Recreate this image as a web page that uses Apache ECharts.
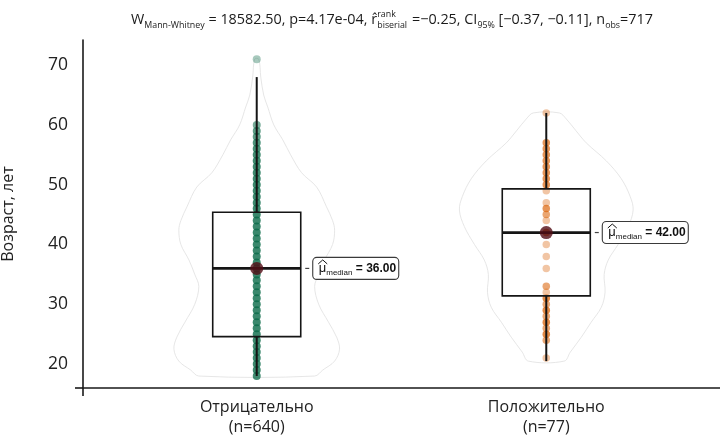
<!DOCTYPE html>
<html>
<head>
<meta charset="utf-8">
<script src="https://cdn.jsdelivr.net/npm/echarts@6.0.0/dist/echarts.min.js"></script>
<style>
  html, body { margin: 0; background: #fff; }
  #chart { width: 720px; height: 438px; }
</style>
</head>
<body>
<div id="chart"></div>
<script>
// --- data ---
const categories = ['Отрицательно', 'Положительно'];
const groupSizes = [640, 77];
const yTicks = [20, 30, 40, 50, 60, 70];

// [whisker low, Q1, median, Q3, whisker high]
const boxNeg = [18, 24.6, 36, 45.4, 68];
const boxPos = [20.5, 31.4, 42, 49.3, 62];
const medianText = ['36.00', '42.00'];

// ages seen as dots and how many seem stacked on each
const agesNeg = [18, 19, 20, 21, 22, 23, 24, 25, 26, 27, 28, 29, 30, 31, 32, 33, 34, 35, 36, 37, 38, 39,
  40, 41, 42, 43, 44, 45, 46, 47, 48, 49, 50, 51, 52, 53, 54, 55, 56, 57, 58, 59, 60, 71];
const countsNeg = [6, 10, 14, 18, 20, 22, 22, 21, 19, 17, 15, 14, 13, 12, 12, 12, 13, 14, 15, 16, 17, 18,
  19, 19, 19, 19, 18, 17, 16, 15, 14, 13, 12, 10, 9, 8, 7, 6, 5, 4, 3, 3, 2, 1];
const agesPos = [62, 57, 56, 55, 54, 53, 52, 51, 50, 49, 47, 46, 45, 44, 42, 40, 38, 36, 33, 32, 31, 30,
  29, 28, 27, 26, 25, 24, 21];
const countsPos = [1, 3, 3, 3, 3, 3, 3, 3, 3, 1, 1, 3, 2, 1, 4, 1, 1, 1, 2, 1, 4, 2, 4, 2, 4, 2, 4, 2, 1];

// violin outline: [age, half width in category units]
const violinNeg = [[71, 0.007], [68, 0.014], [65, 0.024], [63, 0.038], [60, 0.059], [57.5, 0.09],
  [55, 0.117], [52, 0.155], [49.6, 0.207], [46.3, 0.241], [44, 0.262], [42.4, 0.269], [40, 0.262],
  [37.4, 0.234], [35, 0.214], [33, 0.2], [30, 0.214], [27, 0.248], [24.5, 0.276], [22.5, 0.286],
  [20.5, 0.269], [19, 0.228], [18, 0.2]];
const violinPos = [[62, 0.045], [61, 0.069], [59, 0.103], [57, 0.138], [54, 0.207], [51, 0.259],
  [48, 0.29], [45.75, 0.3], [43, 0.283], [40, 0.248], [37.4, 0.214], [35, 0.2], [32, 0.203],
  [29.5, 0.19], [27, 0.155], [24.5, 0.121], [22, 0.083], [20.5, 0.062]];

// subtitle statistics
const wStat = '18582.50', pValue = '4.17e-04', rEff = '−0.25', ciLow = '−0.37', ciHigh = '−0.11', nObs = '717';

// --- styling ---
const colors = ['#0a6a48', '#D95F02'];
const pointAlpha = 0.45;
const boxHalf = 0.152;
const font = '"Open Sans", "DejaVu Sans", sans-serif';

function rgba(hex, a) {
  const n = parseInt(hex.slice(1), 16);
  return 'rgba(' + (n >> 16) + ',' + ((n >> 8) & 255) + ',' + (n & 255) + ',' + a.toFixed(3) + ')';
}

function pointData(x, ages, counts) {
  return ages.map((a, i) => [x, a, counts[i]]);
}

// subtitle pieces, measured so they sit side by side
function buildTitle() {
  const parts = [
    ['W', 'n'], ['Mann-Whitney', 'sub'], [' = ' + wStat + ', p=' + pValue + ', ', 'n'], ['r\u0302', 'n'],
    [['rank', 'biserial'], 'stack'], [' =' + rEff + ', CI', 'n'], ['95%', 'sub'],
    [' [' + ciLow + ', ' + ciHigh + '], n', 'n'], ['obs', 'sub'], ['=' + nObs, 'n']
  ];
  const ctx = document.createElement('canvas').getContext('2d');
  const big = 13, small = 8;
  const w = (t, s) => { ctx.font = s + 'px ' + font; return ctx.measureText(t).width; };
  let x = 0;
  const items = [];
  parts.forEach(([t, kind]) => {
    if (kind === 'stack') {
      items.push({ t: t[0], s: small, x: x, dy: -5.5 });
      items.push({ t: t[1], s: small, x: x, dy: 4.5 });
      x += Math.max(w(t[0], small), w(t[1], small)) + 1;
    } else {
      const s = kind === 'sub' ? small : big;
      items.push({ t: t, s: s, x: x, dy: kind === 'sub' ? 4.5 : 0 });
      x += w(t, s);
    }
  });
  const k = 522 / x;
  const left = 131, mid = 21.5;
  return items.map(it => ({
    type: 'text',
    left: left + it.x * k,
    top: mid + it.dy * k - it.s * k * 0.62,
    style: { text: it.t, fill: '#1a1a1a', font: (it.s * k).toFixed(2) + 'px ' + font }
  }));
}

const chart = echarts.init(document.getElementById('chart'));

function renderViolin(params, api) {
  const outline = params.seriesIndex === 0 ? violinNeg : violinPos;
  const x = api.value(0);
  const right = outline.map(([v, h]) => api.coord([x + h, v]));
  const left = outline.slice().reverse().map(([v, h]) => api.coord([x - h, v]));
  return {
    type: 'polygon',
    shape: { points: right.concat(left), smooth: 0.35 },
    style: { fill: 'rgba(255,255,255,0)', stroke: '#e0e0e0', lineWidth: 0.8 }
  };
}

function renderBox(params, api) {
  const x = api.value(0);
  const [wl, q1, md, q3, wh] = [1, 2, 3, 4, 5].map(i => api.value(i));
  const c = (dx, v) => api.coord([x + dx, v]);
  const tl = c(-boxHalf, q3), br = c(boxHalf, q1);
  const ln = (p1, p2, lw) => ({
    type: 'line',
    shape: { x1: p1[0], y1: p1[1], x2: p2[0], y2: p2[1] },
    style: { stroke: '#151515', lineWidth: lw }
  });
  return {
    type: 'group',
    children: [
      ln(c(0, wl), c(0, q1), 2),
      ln(c(0, q3), c(0, wh), 2),
      { type: 'rect', shape: { x: tl[0], y: tl[1], width: br[0] - tl[0], height: br[1] - tl[1] },
        style: { fill: 'none', stroke: '#151515', lineWidth: 1.6 } },
      ln(c(-boxHalf, md), c(boxHalf, md), 2.8)
    ]
  };
}

function renderLabel(params, api) {
  const x = api.value(0);
  const p = api.coord([x + boxHalf, api.value(1)]);
  const txt = medianText[params.dataIndex];
  const tx = p[0] + 18, ty = p[1];
  return {
    type: 'group',
    children: [
      { type: 'line', shape: { x1: p[0] + 4.5, y1: ty, x2: p[0] + 8.5, y2: ty },
        style: { stroke: '#444', lineWidth: 1.2 } },
      { type: 'rect', shape: { x: p[0] + 12, y: ty - 11, width: 86, height: 22, r: 4 },
        style: { fill: '#fff', stroke: '#3a3a3a', lineWidth: 1.1 } },
      { type: 'polyline', shape: { points: [[tx - 0.5, ty - 4.5], [tx + 4, ty - 8.5], [tx + 8.5, ty - 4.5]] },
        style: { stroke: '#111', lineWidth: 1, fill: 'none' } },
      { type: 'text', x: tx, y: ty,
        style: {
          text: '{mu|\u03bc}{sub|median}{v| = ' + txt + '}',
          verticalAlign: 'middle',
          rich: {
            mu: { fontSize: 13, fontFamily: 'Liberation Sans', fill: '#111', lineHeight: 16 },
            sub: { fontSize: 8, fontFamily: 'Liberation Sans', fill: '#111', lineHeight: 16,
                   verticalAlign: 'bottom', padding: [6, 0, 0, 0] },
            v: { fontSize: 12, fontFamily: 'Liberation Sans', fontWeight: 'bold', fill: '#111', lineHeight: 16 }
          }
        } }
    ]
  };
}

chart.setOption({
  animation: false,
  backgroundColor: '#fff',
  graphic: buildTitle(),
  grid: { left: 83, right: 0, top: 40, bottom: 50, outerBoundsMode: 'none', containLabel: false },
  xAxis: {
    type: 'value', min: 0.4, max: 2.6,
    splitLine: { show: false },
    axisLine: { show: true, lineStyle: { color: '#1a1a1a', width: 1.6 } },
    axisTick: { show: true, customValues: [0.4], length: 8, lineStyle: { color: '#1a1a1a', width: 1.6 } },
    axisLabel: {
      customValues: [1, 2], margin: 9, color: '#222', fontFamily: font, fontSize: 16, lineHeight: 20,
      formatter: v => categories[Math.round(v) - 1] + '\n(n=' + groupSizes[Math.round(v) - 1] + ')'
    }
  },
  yAxis: {
    type: 'value', min: 16, max: 74.2,
    name: 'Возраст, лет', nameLocation: 'middle', nameGap: 67,
    nameTextStyle: { fontFamily: font, fontSize: 16, color: '#222' },
    splitLine: { show: false },
    axisLine: { show: true, lineStyle: { color: '#1a1a1a', width: 1.6 } },
    axisTick: { show: true, customValues: [16], length: 8, lineStyle: { color: '#1a1a1a', width: 1.6 } },
    axisLabel: { customValues: yTicks, margin: 15, color: '#222', fontFamily: font, fontSize: 17.5 }
  },
  series: [
    { type: 'custom', z: 1, data: [[1]], renderItem: renderViolin, silent: true },
    { type: 'custom', z: 1, data: [[2]], renderItem: renderViolin, silent: true },
    { type: 'scatter', z: 2, symbolSize: 8, data: pointData(1, agesNeg, countsNeg),
      itemStyle: { color: p => rgba(colors[0], 1 - Math.pow(1 - pointAlpha, p.data[2])) } },
    { type: 'scatter', z: 2, symbolSize: 7.5, data: pointData(2, agesPos, countsPos),
      itemStyle: { color: p => rgba(colors[1], 1 - Math.pow(1 - pointAlpha, p.data[2])) } },
    { type: 'custom', z: 3, data: [[1].concat(boxNeg), [2].concat(boxPos)], renderItem: renderBox,
      encode: { x: 0, y: [1, 2, 3, 4, 5] } },
    { type: 'scatter', z: 4, symbolSize: 13, data: [[1, boxNeg[2]], [2, boxPos[2]]],
      itemStyle: { color: '#530c15' } },
    { type: 'custom', z: 5, data: [[1, boxNeg[2]], [2, boxPos[2]]], renderItem: renderLabel }
  ]
});
</script>
</body>
</html>
